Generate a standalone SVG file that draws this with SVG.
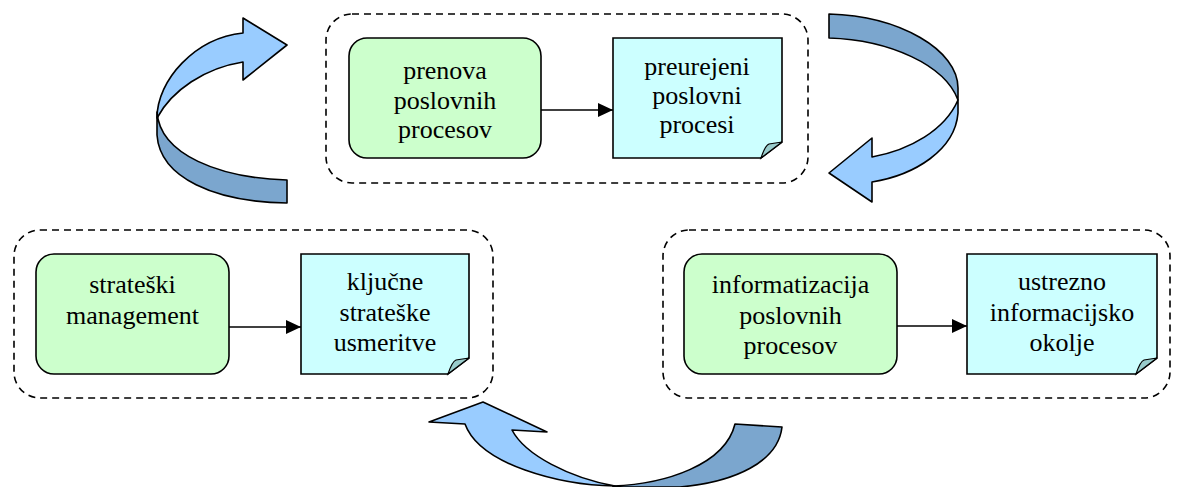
<svg xmlns="http://www.w3.org/2000/svg" width="1181" height="487" viewBox="0 0 1181 487">
  <defs>
    <style>
      .group { fill: none; stroke: #000; stroke-width: 1.6; stroke-dasharray: 7 5; }
      .task { fill: #CCFFCC; stroke: #000; stroke-width: 1.6; }
      .doc { fill: #CCFFFF; stroke: #000; stroke-width: 1.6; }
      .fold { fill: #99CCCC; stroke: #000; stroke-width: 1.2; }
      .label { font-family: "Liberation Serif", "Times New Roman", serif; font-size: 26px; fill: #000; text-anchor: middle; }
      .edge { stroke: #000; stroke-width: 1.6; fill: none; }
      .front { fill: #99CCFF; stroke: #000; stroke-width: 1.6; stroke-linejoin: round; }
      .back { fill: #7BA6CE; stroke: #000; stroke-width: 1.6; stroke-linejoin: round; }
    </style>
    <marker id="head" viewBox="0 0 15 14" refX="15" refY="7" markerWidth="15" markerHeight="14" markerUnits="userSpaceOnUse" orient="auto">
      <path d="M0,0 L15,7 L0,14 Z" fill="#000"/>
    </marker>
  </defs>

  <!-- dashed phase frames -->
  <g id="frame-top"><rect class="group" x="326" y="14" width="482" height="169" rx="26" ry="26"/></g>
  <g id="frame-left"><rect class="group" x="14" y="230" width="479" height="168" rx="26" ry="26"/></g>
  <g id="frame-right"><rect class="group" x="663" y="230" width="507" height="168" rx="26" ry="26"/></g>

  <!-- cycle arrows -->
  <g id="cycle-arrows">
    <!-- upper left: rises towards the top frame -->
    <path class="back" d="M157,112 C160,155 220,178 287,180 L287,203 C215,202 160,178 157,135 Z"/>
    <path class="front" d="M243,18 L287,45 L243,80 L243,62 C205,68 172,90 157,118 C157,80 195,38 243,33 Z"/>
    <!-- upper right: descends towards the right frame -->
    <path class="back" d="M829,14 C900,16 958,50 958,88 L958,100 C945,65 890,40 829,38 Z"/>
    <path class="front" d="M958,100 L958,113 C955,150 915,175 872,182 L872,202 L829,173 L872,138 L872,157 C910,150 945,130 958,100 Z"/>
    <!-- bottom: returns to the left frame -->
    <path class="back" d="M613,486 C665,484 725,465 735,424 L782,427 C778,462 735,482 680,487 L613,487 Z"/>
    <path class="front" d="M429,422 L483,402 L547,432 L512,430 C525,455 570,478 615,486 C560,485 480,465 465,424 Z"/>
  </g>

  <!-- connectors -->
  <g id="connectors">
    <line class="edge" x1="541" y1="110" x2="613" y2="110" marker-end="url(#head)"/>
    <line class="edge" x1="229" y1="327" x2="301" y2="327" marker-end="url(#head)"/>
    <line class="edge" x1="897" y1="326" x2="967" y2="326" marker-end="url(#head)"/>
  </g>

  <!-- top frame nodes -->
  <g id="prenova">
    <rect class="task" x="349" y="38" width="192" height="120" rx="18" ry="18"/>
    <text class="label" x="445" y="79">prenova</text>
    <text class="label" x="445" y="109">poslovnih</text>
    <text class="label" x="445" y="138">procesov</text>
  </g>
  <g id="preurejeni">
    <path class="doc" d="M613,38 H782 V142 L761,158 H613 Z"/>
    <path class="fold" d="M782,142 L761,158 C763,152 766,145 769,144 Z"/>
    <text class="label" x="697" y="75">preurejeni</text>
    <text class="label" x="697" y="104">poslovni</text>
    <text class="label" x="697" y="133">procesi</text>
  </g>

  <!-- left frame nodes -->
  <g id="strateski">
    <rect class="task" x="36" y="254" width="193" height="120" rx="18" ry="18"/>
    <text class="label" x="132.5" y="293">strateški</text>
    <text class="label" x="132.5" y="324">management</text>
  </g>
  <g id="usmeritve">
    <path class="doc" d="M301,254 H469 V358 L448,374 H301 Z"/>
    <path class="fold" d="M469,358 L448,374 C450,368 453,361 456,360 Z"/>
    <text class="label" x="385" y="290">ključne</text>
    <text class="label" x="385" y="321">strateške</text>
    <text class="label" x="385" y="351">usmeritve</text>
  </g>

  <!-- right frame nodes -->
  <g id="informatizacija">
    <rect class="task" x="684" y="254" width="213" height="120" rx="18" ry="18"/>
    <text class="label" x="790.5" y="293">informatizacija</text>
    <text class="label" x="790.5" y="324">poslovnih</text>
    <text class="label" x="790.5" y="354">procesov</text>
  </g>
  <g id="okolje">
    <path class="doc" d="M967,254 H1157 V358 L1136,374 H967 Z"/>
    <path class="fold" d="M1157,358 L1136,374 C1138,368 1141,361 1144,360 Z"/>
    <text class="label" x="1062" y="290">ustrezno</text>
    <text class="label" x="1062" y="321">informacijsko</text>
    <text class="label" x="1062" y="351">okolje</text>
  </g>
</svg>
